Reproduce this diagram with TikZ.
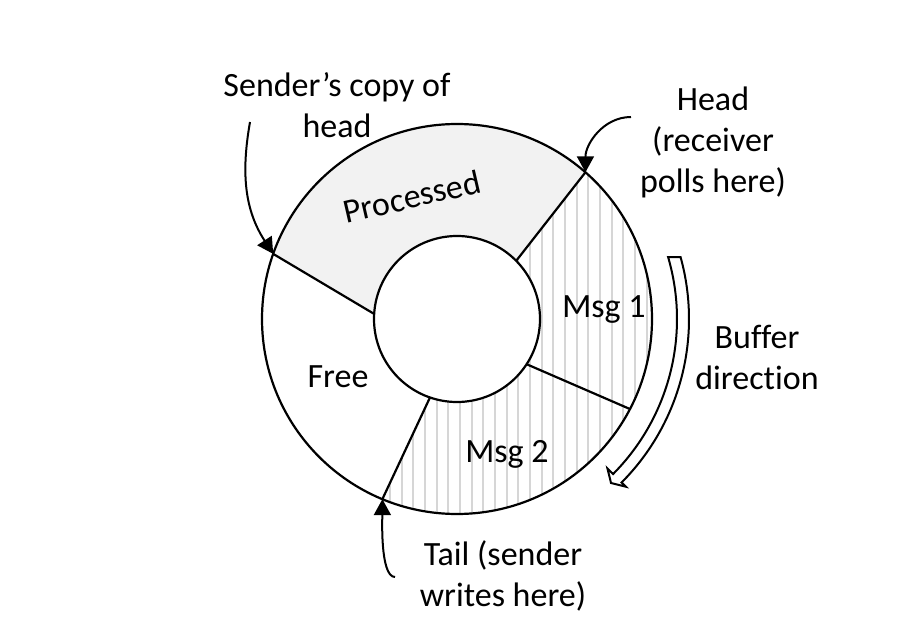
\documentclass[tikz,border=0pt]{standalone}
\usepackage{fontspec}
\setmainfont{Carlito}[Ligatures=NoCommon]
\usepackage{tikz}
\usetikzlibrary{arrows.meta}

\begin{document}
\begin{tikzpicture}[x=1pt,y=1pt,
    ring/.style={line width=2.2pt},
    pointer/.style={line width=2pt,-{Triangle[length=16pt,width=17pt]}},
    hatch/.style={black!16,line width=2pt},
    lbl/.style={inner sep=0pt,font=\fontsize{34}{41}\selectfont,align=center}]
  \useasboundingbox (0,0) rectangle (920,638);
  \begin{scope}[shift={(457,319)}]
    \coordinate (p-head) at (48.8:195);
    \coordinate (p-sender) at (160.5:195);
    \coordinate (p-msg) at (-27.5:195);
    \coordinate (p-tail) at (-112.5:195);
    \coordinate (q-head) at (44.5:83);
    \coordinate (q-sender) at (176.5:83);
    \coordinate (q-msg) at (-33:83);
    \coordinate (q-tail) at (-109:83);
    \fill[black!5] (p-head) arc[start angle=48.8,end angle=160.5,radius=195] -- (q-sender)
      arc[start angle=176.5,end angle=44.5,radius=83] -- cycle;
    \begin{scope}
      \clip (p-head) arc[start angle=48.8,end angle=-112.5,radius=195] -- (q-tail)
        arc[start angle=-109,end angle=44.5,radius=83] -- cycle;
      \foreach \k in {-17,...,17}
        \draw[hatch] (3+11.67*\k,-200) -- ++(0,400);
    \end{scope}
    \draw[ring] (0,0) circle[radius=195];
    \draw[ring,fill=white] (0,0) circle[radius=83];
    \draw[ring] (p-head) -- (q-head);
    \draw[ring] (p-sender) -- (q-sender);
    \draw[ring] (p-msg) -- (q-msg);
    \draw[ring] (p-tail) -- (q-tail);
    \draw[line width=2pt,fill=white,line join=miter] (15.5:232) arc[start angle=15.5,end angle=-44.8,radius=232]
      -- (-44.8:238) -- (-46.8:225) -- (-44.8:212) -- (-44.8:220)
      arc[start angle=-44.8,end angle=16.37,radius=220] -- cycle;
  \end{scope}
  \node[lbl,rotate=13] (proc) at (412,441.5) {Processed};
  \node[lbl] (msg1) at (604,328.5) {Msg 1};
  \node[lbl] (msg2) at (507,183.5) {Msg 2};
  \node[lbl] (free) at (338,261) {Free};
  \node[lbl] (sender) at (337,533) {Sender’s copy of\\head};
  \node[lbl] (head) at (713,496) {Head\\(receiver\\polls here)};
  \node[lbl] (bufdir) at (757,280.5) {Buffer\\direction};
  \node[lbl] (tail) at (503,62) {Tail (sender\\writes here)};
  \coordinate (sender-from) at (250,516);
  \coordinate (head-from) at (631,521);
  \coordinate (tail-from) at (395,61);
  \draw[pointer] (sender-from) to[out=-100,in=123] (p-sender);
  \draw[pointer] (head-from) to[out=180,in=90] (p-head);
  \draw[pointer] (tail-from) to[out=180,in=-90,looseness=0.5] (p-tail);
\end{tikzpicture}
\end{document}
